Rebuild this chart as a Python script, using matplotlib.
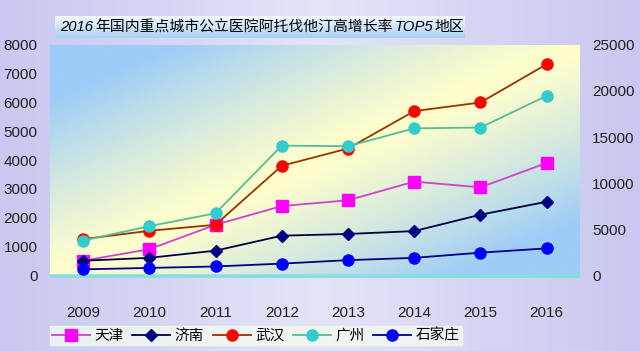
import numpy as np
import matplotlib
matplotlib.use('Agg')
import matplotlib.pyplot as plt
from matplotlib.colors import to_rgb

plt.rcParams['font.family'] = ['Liberation Sans', 'Noto Sans CJK SC', 'DejaVu Sans']

years = ['2009', '2010', '2011', '2012', '2013', '2014', '2015', '2016']
tianjin = [500, 900, 1750, 2400, 2600, 3250, 3050, 3900]
jinan = [500, 600, 850, 1370, 1430, 1530, 2100, 2550]
wuhan = [1250, 1540, 1750, 3800, 4400, 5700, 6000, 7330]
guangzhou = [1200, 1700, 2150, 4500, 4480, 5100, 5130, 6230]
shijiazhuang = [200, 250, 300, 400, 520, 600, 780, 930]

left_ticks = [0, 1000, 2000, 3000, 4000, 5000, 6000, 7000, 8000]
right_ticks = [0, 5000, 10000, 15000, 20000, 25000]

series = [
    ('天津', tianjin, 's', '#ff00ff', '#cc44cc', 8),
    ('济南', jinan, 'D', '#000080', '#000040', 6.5),
    ('武汉', wuhan, 'o', '#ff0000', '#993300', 8),
    ('广州', guangzhou, 'o', '#33cccc', '#55bb99', 8),
    ('石家庄', shijiazhuang, 'o', '#0000ff', '#000080', 8),
]

fig = plt.figure(figsize=(6.4, 3.51), dpi=100)

# lavender backdrop
bg = np.linspace(0, 1, 200)[None, :] * np.ones((100, 1))
bg_img = np.zeros((100, 200, 3))
c_side, c_mid = np.array(to_rgb('#c8c8f0')), np.array(to_rgb('#e4e4f8'))
w = 1 - np.abs(bg - 0.5) * 2
bg_img[:] = c_side + (c_mid - c_side) * w[..., None]
bax = fig.add_axes([0, 0, 1, 1], zorder=-10)
bax.imshow(bg_img, aspect='auto', extent=[0, 1, 0, 1])
bax.axis('off')

ax = fig.add_axes([0.078, 0.208, 0.828, 0.664])
ax.set_facecolor('none')

# diagonal blue/yellow gradient in the plot area
gx, gy = np.meshgrid(np.linspace(0, 1, 200), np.linspace(1, 0, 200))
d = np.clip(np.abs(gx - gy) * 1.3, 0, 1)
blue, yellow = np.array(to_rgb('#9cccf8')), np.array(to_rgb('#ffffcc'))
grad = yellow + (blue - yellow) * d[..., None] ** 1.2
ax.imshow(grad, aspect='auto', extent=[0, 1, 0, 1], transform=ax.transAxes, zorder=0)

x = np.arange(len(years))
for label, vals, mk, mcol, lcol, ms in series:
    ax.plot(x, vals, color=lcol, lw=1.3, marker=mk, markersize=ms,
            markerfacecolor=mcol, markeredgecolor=mcol, label=label, zorder=3)

ax.set_xlim(-0.5, 7.5)
ax.set_ylim(-100, 8000)
ax.set_yticks(left_ticks)
ax.set_xticks(x)
ax.set_xticklabels(years)
for s in ax.spines.values():
    s.set_visible(False)
ax.tick_params(axis='both', length=0, labelsize=11, colors='#222222')
ax.tick_params(axis='x', pad=20)
ax.tick_params(axis='y', pad=9)
ax.axhline(-50, color='#88dde0', lw=4, zorder=2)

ax2 = ax.twinx()
ax2.set_ylim(-100 * 25000 / 8000, 25000)
ax2.set_yticks(right_ticks)
for s in ax2.spines.values():
    s.set_visible(False)
ax2.tick_params(axis='y', length=0, labelsize=11, colors='#222222', pad=9)

leg = fig.legend(*ax.get_legend_handles_labels(), loc='lower left', ncol=5,
                 bbox_to_anchor=(0.078, 0.017), fontsize=10.5, frameon=True,
                 fancybox=False, handlelength=2.6, handletextpad=0.3,
                 columnspacing=0.6, borderpad=0.15, borderaxespad=0)
leg.get_frame().set_facecolor('#f2fbf0')
leg.get_frame().set_edgecolor('#f2fbf0')
for t in leg.get_texts():
    t.set_family(['Noto Sans CJK SC', 'DejaVu Sans'])

# title box
tbox = fig.add_axes([0.086, 0.892, 0.64, 0.062], zorder=5)
tg = np.linspace(0, 1, 50)[:, None] * np.ones((1, 100))
tcol = np.array(to_rgb('#f4faff')) + (np.array(to_rgb('#a8d0f4')) - np.array(to_rgb('#f4faff'))) * tg[..., None]
tbox.imshow(tcol, aspect='auto', extent=[0, 1, 0, 1])
tbox.axis('off')

parts = [('2016', 'italic', ['Liberation Sans']),
         ('年国内重点城市公立医院阿托伐他汀高增长率', 'normal', ['Noto Sans CJK SC']),
         ('TOP5', 'italic', ['Liberation Sans']),
         ('地区', 'normal', ['Noto Sans CJK SC'])]
renderer = fig.canvas.get_renderer()
xpos = 60 / 640
ty = 1 - 27 / 351
for txt, style, fam in parts:
    t = fig.text(xpos, ty, txt, fontsize=10.7, style=style, family=fam,
                 va='center', ha='left', zorder=10)
    bb = t.get_window_extent(renderer=renderer)
    xpos += bb.width / fig.bbox.width + 0.003

fig.savefig('out.png', dpi=100)
